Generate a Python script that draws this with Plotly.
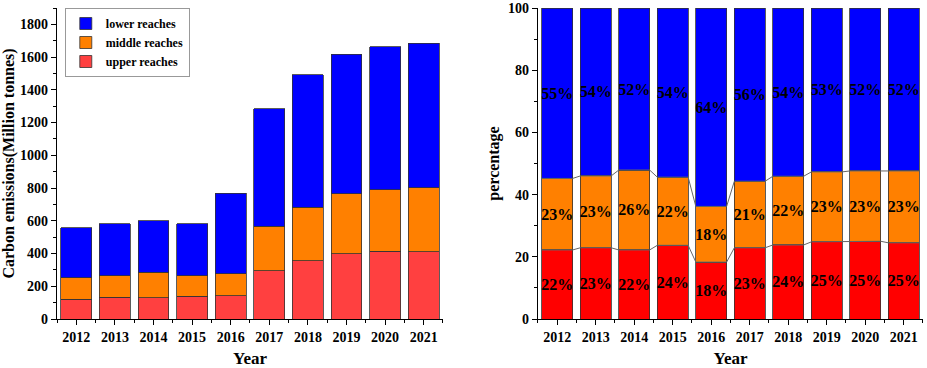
import plotly.graph_objects as go

years = [2012, 2013, 2014, 2015, 2016, 2017, 2018, 2019, 2020, 2021]
year_labels = [str(y) for y in years]

# Left chart: carbon emissions (Million tonnes), stacked
upper = [122, 133, 130, 139, 141, 296, 355, 400, 414, 412]
middle = [129, 132, 155, 126, 134, 271, 328, 365, 377, 391]
lower = [308, 316, 314, 318, 492, 719, 809, 854, 871, 883]

# Right chart: shares (percentage), stacked
upper_pct = [22.2, 22.9, 22.2, 23.7, 18.3, 22.9, 23.8, 24.8, 25.0, 24.5]
middle_pct = [23.0, 23.1, 25.7, 21.9, 17.9, 21.4, 22.1, 22.5, 22.6, 23.1]
lower_pct = [54.8, 54.0, 52.1, 54.4, 63.8, 55.7, 54.1, 52.7, 52.4, 52.4]
upper_lbl = [22, 23, 22, 24, 18, 23, 24, 25, 25, 25]
middle_lbl = [23, 23, 26, 22, 18, 21, 22, 23, 23, 23]
lower_lbl = [55, 54, 52, 54, 64, 56, 54, 53, 52, 52]

BLUE = "#0000FF"
ORANGE = "#FF8000"
RED_L = "#FF4040"
RED_R = "#FF0000"
FONT = "Liberation Serif, Times New Roman, serif"
BAR_W = 0.8
OUTLINE = dict(color="#333333", width=0.8)

fig = go.Figure()

# Left stacked bars
for name, vals, col in [("upper reaches", upper, RED_L),
                        ("middle reaches", middle, ORANGE),
                        ("lower reaches", lower, BLUE)]:
    fig.add_trace(go.Bar(x=years, y=vals, name=name, width=BAR_W,
                         marker=dict(color=col, line=OUTLINE),
                         xaxis="x", yaxis="y", hoverinfo="x+y"))

# Right stacked percentage bars
txtfont = dict(family=FONT, size=16, color="black", weight="bold")
for vals, lbls, col in [(upper_pct, upper_lbl, RED_R),
                        (middle_pct, middle_lbl, ORANGE),
                        (lower_pct, lower_lbl, BLUE)]:
    fig.add_trace(go.Bar(x=years, y=vals, width=BAR_W, showlegend=False,
                         marker=dict(color=col, line=OUTLINE),
                         text=[f"{v}%" for v in lbls], textposition="inside",
                         insidetextanchor="middle", constraintext="none",
                         textangle=0, insidetextfont=txtfont,
                         xaxis="x2", yaxis="y2", hoverinfo="x+y"))

# Connecting lines between stacked boundaries (right chart)
cum1 = upper_pct
cum2 = [a + b for a, b in zip(upper_pct, middle_pct)]
for cum in (cum1, cum2):
    xs, ys = [], []
    for y, c in zip(years, cum):
        xs += [y - BAR_W / 2, y + BAR_W / 2]
        ys += [c, c]
    fig.add_trace(go.Scatter(x=xs, y=ys, mode="lines", showlegend=False,
                             line=dict(color="#666666", width=1),
                             xaxis="x2", yaxis="y2", hoverinfo="skip"))

tickfont = dict(family=FONT, size=14, color="black", weight="bold")
titlefont = dict(family=FONT, size=16, color="black", weight="bold")
xtitlefont = dict(family=FONT, size=17, color="black", weight="bold")

def xax(domain, anchor):
    return dict(domain=domain, anchor=anchor, range=[2011.5, 2021.5],
                automargin=True,
                tickmode="array", tickvals=years, ticktext=year_labels,
                showline=True, linecolor="black", linewidth=1.3,
                ticks="outside", ticklen=5, tickwidth=1.3, tickcolor="black",
                minor=dict(ticks="outside", ticklen=3, tickmode="linear",
                           tick0=2011.5, dtick=1, tickwidth=1.3, tickcolor="black"),
                showgrid=False, zeroline=False, tickfont=tickfont,
                title=dict(text="Year", font=xtitlefont, standoff=15))

def yax(domain, anchor, rng, dtick, mdtick, title):
    return dict(domain=domain, anchor=anchor, range=rng,
                automargin=False,
                tickmode="linear", tick0=0, dtick=dtick,
                showline=True, linecolor="black", linewidth=1.3,
                ticks="outside", ticklen=5, tickwidth=1.3, tickcolor="black",
                minor=dict(ticks="outside", ticklen=3, dtick=mdtick,
                           tickwidth=1.3, tickcolor="black"),
                showgrid=False, zeroline=False, tickfont=tickfont,
                title=dict(text=title, font=titlefont, standoff=4))

fig.update_layout(
    width=927, height=368,
    margin=dict(l=57, r=4, t=8, b=49, autoexpand=False),
    paper_bgcolor="white", plot_bgcolor="white",
    barmode="stack", bargap=0.2,
    xaxis=xax([0.0, 0.4457], "y"),
    yaxis=yax([0.0, 1.0], "x", [0, 1900], 200, 100,
              "Carbon emissions(Million tonnes)"),
    xaxis2=xax([0.5554, 1.0], "y2"),
    yaxis2=yax([0.0, 1.0], "x2", [0, 100], 20, 10, "percentage"),
    legend=dict(x=0.009, y=1.0, xanchor="left", yanchor="top",
                traceorder="reversed", bgcolor="white",
                bordercolor="#999999", borderwidth=1,
                font=dict(family=FONT, size=12, color="black", weight="bold"),
                tracegroupgap=0, itemwidth=30),
    showlegend=True,
)

fig.write_html("out.html",
               config={"displayModeBar": False},
               post_script="document.body.style.margin='0px';"
                           "document.body.style.overflow='hidden';")
